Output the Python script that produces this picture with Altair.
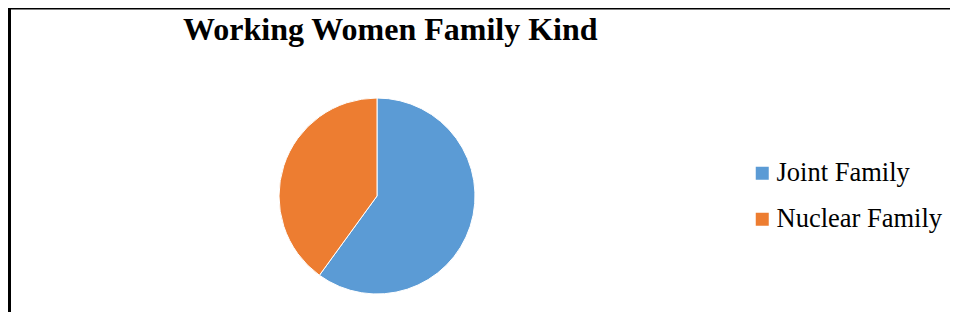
import altair as alt
import pandas as pd

categories = ["Joint Family", "Nuclear Family"]
shares = [60, 40]
colors = ["#5B9BD5", "#ED7D31"]
title_text = ["Working Women Family Kind"]

W, H = 942, 304
FONT = "Liberation Serif"

df = pd.DataFrame({"kind": categories, "share": shares})

pie = alt.Chart(df).mark_arc(radius=98, stroke="white", strokeWidth=1).encode(
    theta=alt.Theta("share:Q", stack=True),
    color=alt.Color(
        "kind:N",
        scale=alt.Scale(domain=categories, range=colors),
        sort=categories,
        legend=alt.Legend(
            title=None,
            orient="none",
            legendX=741,
            legendY=152,
            symbolType="square",
            symbolSize=169,
            symbolStrokeWidth=0,
            labelFont=FONT,
            labelFontSize=26.5,
            labelColor="black",
            labelOffset=1,
            rowPadding=19,
            padding=0,
            labelLimit=300,
        ),
    ),
    order=alt.Order("kind:N", sort="ascending"),
    x=alt.value(369),
    y=alt.value(188),
)

title = alt.Chart(pd.DataFrame({"t": title_text})).mark_text(
    font=FONT, fontSize=32, fontWeight="bold", align="left", baseline="alphabetic", color="black"
).encode(text="t:N", x=alt.value(175), y=alt.value(31.5))

frame_top = alt.Chart(pd.DataFrame({"a": [0]})).mark_rule(color="black", strokeWidth=2).encode(
    x=alt.value(0), x2=alt.value(W), y=alt.value(0.5)
)
frame_left = alt.Chart(pd.DataFrame({"a": [0]})).mark_rule(color="black", strokeWidth=3).encode(
    x=alt.value(1.5), y=alt.value(0), y2=alt.value(H)
)

chart = alt.layer(frame_top, frame_left, pie, title).properties(
    width=W, height=H, autosize=alt.AutoSizeParams(type="none"), padding=0, background="white"
).configure_view(stroke=None)

chart.save("out.html", embed_options={"renderer": "svg", "actions": False})
